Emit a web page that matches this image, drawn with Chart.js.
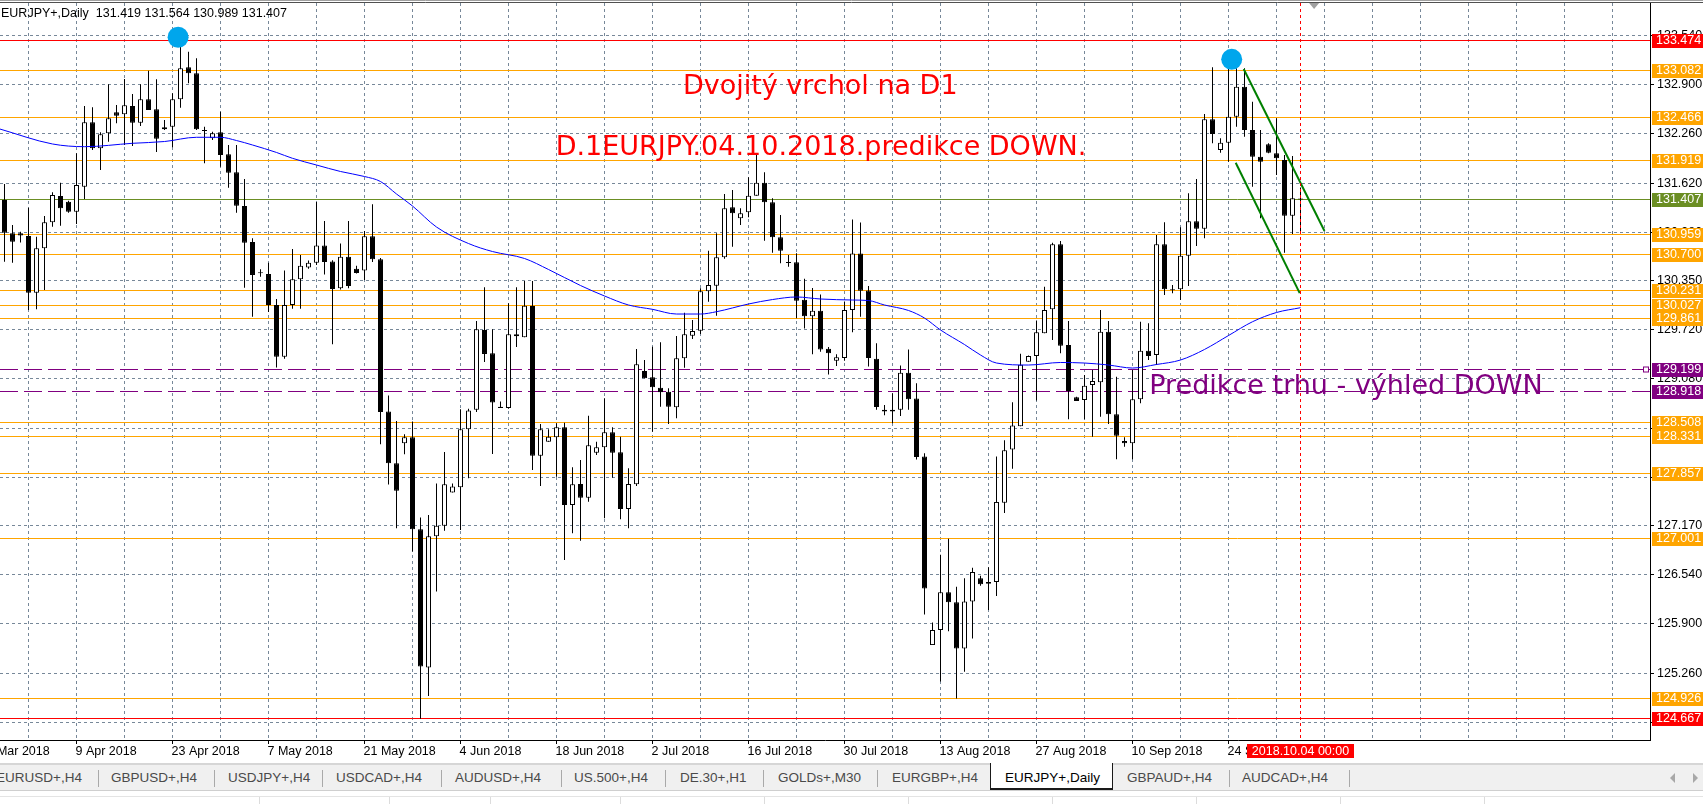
<!DOCTYPE html>
<html>
<head>
<meta charset="utf-8">
<title>EURJPY+,Daily</title>
<script src="https://cdn.jsdelivr.net/npm/chart.js@4.4.0/dist/chart.umd.min.js"></script>
<style>
  html, body { margin: 0; padding: 0; background: #fff; }
  #wrap { position: relative; width: 1703px; height: 804px; overflow: hidden; }
  #c { position: absolute; left: 0; top: 0; }
  #tabs { position: absolute; left: 0; top: 758px; width: 1703px; height: 46px;
          font-family: "Liberation Sans", Arial, sans-serif; font-size: 13.5px; }
  #tabs .rule { position: absolute; left: 0; top: 5px; width: 1703px; height: 2px; background: #d6d6d6; }
  #tabs .strip { position: absolute; left: 0; top: 7px; width: 1703px; height: 25px; background: #f0f0f0; }
  #tabs .active { position: absolute; left: 990px; top: 5px; width: 121px; height: 25px; background: #fff;
                  border-left: 1px solid #1a1a1a; border-right: 1px solid #1a1a1a; border-bottom: 2px solid #1a1a1a; }
  #tabs .tab { position: absolute; top: 11px; line-height: 18px; color: #4a4a4a; white-space: nowrap; }
  #tabs .tab.on { color: #000; }
  #tabs .sep { position: absolute; top: 12px; width: 1px; height: 17px; background: #a9a9a9; }
  #tabs .foot { position: absolute; left: 0; top: 32px; width: 1703px; height: 14px; background: #fff;
                border-top: 1px solid #cfcfcf; }
  #tabs .foot2 { position: absolute; left: 0; top: 38px; width: 1703px; height: 1px; background: #e4e4e4; }
  #tabs .fsep { position: absolute; top: 39px; width: 1px; height: 7px; background: #dcdcdc; }
  #tabs .arr { position: absolute; top: 15px; width: 0; height: 0; border-top: 5px solid transparent; border-bottom: 5px solid transparent; }
</style>
</head>
<body>
<div id="wrap">
  <canvas id="c" width="1703" height="804"></canvas>
  <div id="tabs">
    <div class="rule"></div>
    <div class="strip"></div>
    <div class="active"></div>
    <span class="tab" style="left:-4px">EURUSD+,H4</span>
    <i class="sep" style="left:98px"></i>
    <span class="tab" style="left:111px">GBPUSD+,H4</span>
    <i class="sep" style="left:214px"></i>
    <span class="tab" style="left:228px">USDJPY+,H4</span>
    <i class="sep" style="left:322px"></i>
    <span class="tab" style="left:336px">USDCAD+,H4</span>
    <i class="sep" style="left:441px"></i>
    <span class="tab" style="left:455px">AUDUSD+,H4</span>
    <i class="sep" style="left:561px"></i>
    <span class="tab" style="left:574px">US.500+,H4</span>
    <i class="sep" style="left:665px"></i>
    <span class="tab" style="left:680px">DE.30+,H1</span>
    <i class="sep" style="left:763px"></i>
    <span class="tab" style="left:778px">GOLDs+,M30</span>
    <i class="sep" style="left:877px"></i>
    <span class="tab" style="left:892px">EURGBP+,H4</span>
    <span class="tab on" style="left:1005px">EURJPY+,Daily</span>
    <span class="tab" style="left:1127px">GBPAUD+,H4</span>
    <i class="sep" style="left:1229px"></i>
    <span class="tab" style="left:1242px">AUDCAD+,H4</span>
    <i class="sep" style="left:1349px"></i>
    <div class="arr" style="left:1670px;border-right:5px solid #a8a8a8"></div>
    <div class="arr" style="left:1693px;border-left:5px solid #a8a8a8"></div>
    <div class="foot"></div>
    <div class="foot2"></div>
    <i class="fsep" style="left:259px"></i><i class="fsep" style="left:389px"></i>
    <i class="fsep" style="left:490px"></i><i class="fsep" style="left:620px"></i>
    <i class="fsep" style="left:764px"></i><i class="fsep" style="left:908px"></i>
    <i class="fsep" style="left:1052px"></i><i class="fsep" style="left:1196px"></i>
    <i class="fsep" style="left:1340px"></i><i class="fsep" style="left:1484px"></i>
  </div>
</div>
<script>
// daily bars, 29 Mar 2018 .. 4 Oct 2018 (Sunday bars included)
const opens = [
  131.401,130.969,130.969,130.934,130.198,130.774,131.112,131.453,131.379,131.249,
  131.574,132.410,132.072,132.267,132.539,132.513,132.621,132.404,132.708,132.578,
  132.319,132.352,132.708,133.123,133.046,132.310,132.202,132.280,131.994,131.761,
  131.323,130.856,130.457,130.440,130.038,129.366,130.038,130.372,130.525,130.585,
  130.812,130.604,130.256,130.664,130.510,130.487,130.929,130.631,128.657,127.985,
  128.244,128.323,127.127,125.333,127.035,127.173,127.604,127.674,128.425,128.680,
  129.714,129.412,128.717,128.702,129.658,129.621,130.025,128.082,128.264,128.321,
  128.451,127.442,127.715,127.537,128.121,128.191,128.386,128.126,127.390,127.711,
  129.181,129.100,128.965,128.913,128.710,129.346,129.640,129.705,130.216,130.289,
  130.657,131.306,131.163,131.241,131.457,131.626,131.371,130.917,130.587,130.592,
  130.107,129.891,129.963,129.470,129.316,129.350,129.973,130.705,130.226,129.341,
  128.679,128.656,128.679,129.158,128.823,128.072,125.624,125.820,126.309,126.179,
  125.581,126.190,126.491,126.419,126.443,127.472,128.162,128.464,129.302,129.375,
  129.671,129.982,130.826,129.519,128.840,128.805,129.000,129.035,129.692,128.619,
  128.273,128.243,128.814,129.445,129.389,130.826,130.242,130.242,130.678,131.125,
  131.029,132.448,132.050,132.145,132.482,132.872,132.310,131.963,132.124,132.007,
  131.920,131.197,131.419
];
const highs = [
  131.609,131.077,130.990,131.301,130.925,131.193,131.501,131.626,131.392,132.007,
  132.621,132.604,132.280,132.903,132.634,132.972,132.777,132.903,133.079,132.968,
  132.439,132.786,133.474,133.326,133.240,132.352,132.288,132.547,132.115,132.115,
  131.674,130.904,130.501,130.585,130.116,130.487,130.765,130.687,130.617,131.375,
  131.128,130.620,130.835,131.128,130.548,130.999,131.345,130.649,128.865,128.532,
  128.360,128.527,127.280,127.312,127.720,128.129,127.720,128.684,128.693,129.830,
  130.270,129.723,128.787,130.061,130.270,130.350,130.350,128.494,128.425,128.503,
  128.510,127.931,128.026,128.601,128.264,128.827,128.451,128.329,127.918,129.467,
  129.324,129.497,129.554,128.957,129.636,129.938,129.843,130.255,130.743,130.969,
  131.479,131.531,131.293,131.696,131.985,131.761,131.423,131.206,130.687,130.709,
  130.379,130.260,130.174,129.494,129.398,130.083,131.147,131.108,130.285,129.542,
  128.741,128.894,129.254,129.461,129.024,128.114,125.916,126.797,127.003,126.380,
  126.491,126.629,126.524,126.635,128.072,128.282,128.775,129.407,129.384,129.838,
  130.276,130.847,130.869,129.830,128.848,129.130,129.194,129.973,129.830,129.107,
  128.321,129.194,129.821,129.801,130.947,131.112,130.298,131.047,131.488,131.674,
  132.517,133.123,132.202,133.150,133.110,133.110,132.677,132.310,132.137,132.461,
  131.985,131.972,131.564
];
const lows = [
  130.600,130.587,130.850,129.973,129.982,130.233,131.054,131.067,131.236,131.089,
  131.414,132.050,131.790,132.158,132.397,132.115,132.102,132.362,132.569,132.024,
  132.310,132.085,132.599,132.916,132.310,131.877,132.180,131.833,131.561,131.236,
  130.263,129.886,130.405,129.947,129.227,129.342,129.991,129.991,130.510,130.557,
  130.433,129.528,130.240,130.256,130.446,130.363,130.595,128.230,127.707,127.141,
  128.100,126.840,124.667,124.962,126.321,127.109,127.604,127.118,127.790,128.648,
  129.297,128.105,128.702,128.693,129.492,129.621,127.896,127.689,128.264,127.809,
  126.728,127.075,126.979,127.485,128.091,127.269,127.797,127.256,127.140,127.689,
  129.087,128.394,128.718,128.494,128.567,129.224,129.597,129.662,130.081,129.899,
  130.640,130.795,131.077,131.176,131.457,130.873,130.717,130.579,130.535,129.866,
  129.733,129.398,129.432,129.135,129.245,129.316,129.685,129.886,129.240,128.679,
  128.608,128.503,128.597,128.679,128.033,126.021,125.624,125.150,125.805,124.930,
  125.278,125.711,126.395,126.079,126.261,127.338,127.913,128.464,129.302,128.800,
  129.671,129.584,129.411,128.555,128.792,128.555,128.329,128.588,128.494,128.035,
  128.199,128.035,128.762,129.324,129.259,130.168,130.190,130.103,130.285,130.804,
  130.904,132.137,132.015,131.898,132.352,132.223,131.574,131.164,132.007,131.726,
  130.717,130.960,130.989
];
const closes = [
  130.977,130.860,130.940,130.198,130.774,131.112,131.466,131.293,131.249,131.596,
  132.410,132.072,132.254,132.461,132.495,132.630,132.404,132.708,132.569,132.197,
  132.345,132.708,133.110,133.046,132.319,132.297,132.267,131.985,131.755,131.327,
  130.847,130.428,130.450,130.038,129.366,130.038,130.372,130.548,130.585,130.812,
  130.595,130.246,130.664,130.285,130.455,130.929,130.631,128.648,127.985,127.628,
  128.323,127.127,125.347,127.035,127.173,127.711,127.683,128.425,128.670,129.723,
  129.403,128.773,128.702,129.658,129.631,130.029,128.082,128.425,128.329,128.451,
  127.442,127.711,127.537,128.217,128.191,128.386,128.121,127.390,127.715,129.268,
  129.087,128.970,128.905,128.718,129.346,129.658,129.701,130.216,130.298,130.657,
  131.293,131.228,131.228,131.457,131.626,131.371,130.917,130.743,130.583,130.094,
  129.891,129.963,129.461,129.413,129.359,129.973,130.705,130.222,129.350,128.713,
  128.656,128.679,129.158,128.814,128.066,126.357,125.820,126.309,126.179,125.581,
  126.190,126.572,126.414,126.443,127.482,128.152,128.474,129.264,129.375,129.685,
  129.973,130.826,129.510,128.922,128.792,128.991,129.052,129.692,128.619,128.342,
  128.243,128.814,129.445,129.376,130.826,130.242,130.229,130.678,131.125,131.029,
  132.448,132.258,132.145,132.482,132.872,132.310,131.963,131.898,132.015,131.942,
  131.197,131.423,131.407
];

// moving average, read at selected bars (first point sits at the left edge)
const maIdx = [-0.6,6,10,16,20,24,27,29,31,34,36,39,42,45,47,49,51,54,58,61,
  65,68,72,75,78,81,84,87,89,93,96,99,102,106,108,110,113,115,117,120,
  122,124,128,132,135,138,141,144,147,150,153,156,159,162];
const maVal = [132.323,132.128,132.093,132.137,132.160,132.215,132.215,132.173,132.115,132.018,
  131.942,131.855,131.771,131.706,131.641,131.479,131.323,131.050,130.836,130.732,
  130.642,130.499,130.291,130.155,130.038,129.982,129.921,129.921,129.951,130.051,
  130.109,130.142,130.116,130.103,130.096,130.038,129.967,129.869,129.714,129.525,
  129.389,129.285,129.259,129.292,129.285,129.259,129.220,129.266,129.324,129.461,
  129.642,129.821,129.941,130.003];

// horizontal levels
const orangeLevels = [133.082,132.466,131.919,130.959,130.700,130.231,130.027,129.861,128.508,128.331,127.857,127.001,124.926];
const redLevels = [133.474,124.667];
const purpleLevels = [129.199,128.918];
const bidPrice = 131.407;

// channel lines and the two tops  [bar, price]
const trendUpper = [[154.9,133.101],[165.0,130.999]];
const trendLower = [[153.9,131.885],[161.9,130.193]];
const peaks = [[21.7,133.513],[153.4,133.227]];

// axis ticks
const priceTicks = [133.540,132.900,132.260,131.620,130.980,130.350,129.720,129.080,128.440,127.800,127.170,126.540,125.900,125.260,124.620];
const dateIdx = [-3,9,21,33,45,57,69,81,93,105,117,129,141,153];
const dateLabels = ['26 Mar 2018','9 Apr 2018','23 Apr 2018','7 May 2018','21 May 2018','4 Jun 2018',
  '18 Jun 2018','2 Jul 2018','16 Jul 2018','30 Jul 2018','13 Aug 2018','27 Aug 2018','10 Sep 2018','24 Sep 2018'];
const currentLabel = '2018.10.04 00:00';
const symbol = 'EURJPY+,Daily';

const last = closes.length - 1;
const AXIS_FONT = '12.5px "Liberation Sans", Arial, sans-serif';
const NOTE_FONT = '27px "DejaVu Sans", Verdana, sans-serif';

// text objects anchored at [bar, price]
const notes = [
  { text: 'Dvojitý vrchol na D1', at: [84.8, 132.773], color: '#ff0000' },
  { text: 'D.1EURJPY.04.10.2018.predikce DOWN.', at: [68.9, 131.985], color: '#ff0000' },
  { text: 'Predikce trhu - výhled DOWN', at: [143.1, 128.879], color: '#800080' },
];

const crisp = v => Math.round(v - 0.5) + 0.5;
function hline(ctx, x0, x1, y) { ctx.beginPath(); ctx.moveTo(x0, y); ctx.lineTo(x1, y); ctx.stroke(); }
function vline(ctx, x, y0, y1) { ctx.beginPath(); ctx.moveTo(x, y0); ctx.lineTo(x, y1); ctx.stroke(); }

const levelStyles = [
  { values: orangeLevels, color: '#ffa500', dash: [] },
  { values: redLevels, color: '#ff0000', dash: [] },
  { values: [bidPrice], color: '#6b8e23', dash: [] },
  { values: purpleLevels, color: '#800080', dash: [18, 6] },
];

const mt4 = {
  id: 'mt4',
  beforeDraw(chart) {
    const ctx = chart.ctx;
    ctx.save();
    ctx.fillStyle = '#fff';
    ctx.fillRect(0, 0, chart.width, chart.height);
    ctx.restore();
  },
  beforeDatasetsDraw(chart) {
    const { ctx, chartArea: a, scales: { x, y } } = chart;
    ctx.save();
    ctx.beginPath(); ctx.rect(a.left, a.top, a.right - a.left, a.bottom - a.top); ctx.clip();
    ctx.lineWidth = 1;
    ctx.strokeStyle = '#778899';
    ctx.setLineDash([3, 3]);
    for (let i = 3; i <= x.max; i += 6) vline(ctx, crisp(x.getPixelForValue(i)), a.top, a.bottom);
    for (const t of priceTicks) hline(ctx, a.left, a.right, crisp(y.getPixelForValue(t)));
    for (const g of levelStyles) {
      ctx.strokeStyle = g.color;
      ctx.setLineDash(g.dash);
      for (const v of g.values) hline(ctx, a.left, a.right, crisp(y.getPixelForValue(v)));
    }
    ctx.restore();
  },
  afterDatasetsDraw(chart) {
    const { ctx, chartArea: a, scales: { x, y } } = chart;
    ctx.save();
    // current bar marker
    ctx.strokeStyle = '#ff0000';
    ctx.lineWidth = 1;
    ctx.setLineDash([3, 3]);
    vline(ctx, crisp(x.getPixelForValue(last)), a.top, a.bottom);
    ctx.setLineDash([]);
    // handle on the upper prediction line
    const hy = crisp(y.getPixelForValue(purpleLevels[0]));
    ctx.fillStyle = '#fff'; ctx.strokeStyle = '#800080';
    ctx.fillRect(a.right - 6, hy - 2, 4, 4); ctx.strokeRect(a.right - 6.5, hy - 2.5, 5, 5);
    // text objects
    ctx.font = NOTE_FONT;
    ctx.textBaseline = 'alphabetic';
    ctx.textAlign = 'left';
    for (const n of notes) {
      ctx.fillStyle = n.color;
      ctx.fillText(n.text, x.getPixelForValue(n.at[0]), y.getPixelForValue(n.at[1]));
    }
    ctx.restore();
  },
  afterDraw(chart) {
    const { ctx, chartArea: a, scales: { x, y } } = chart;
    ctx.save();
    // window edge and axes frame
    ctx.lineWidth = 1;
    ctx.strokeStyle = '#a0a0a0'; hline(ctx, 0, chart.width, 0.5);
    ctx.strokeStyle = '#505050'; hline(ctx, 0, chart.width, 2.5);
    ctx.strokeStyle = '#000';
    vline(ctx, a.right + 0.5, a.top, a.bottom + 1);
    hline(ctx, 0, a.right + 1, a.bottom + 0.5);

    // price scale
    ctx.font = AXIS_FONT;
    ctx.textBaseline = 'middle';
    ctx.textAlign = 'left';
    ctx.fillStyle = '#000';
    for (const t of priceTicks) {
      const py = crisp(y.getPixelForValue(t));
      hline(ctx, a.right, a.right + 4, py);
      ctx.fillText(t.toFixed(3), a.right + 7, py + 0.5);
    }
    for (const g of levelStyles) {
      for (const v of g.values) {
        const py = crisp(y.getPixelForValue(v));
        ctx.fillStyle = g.color;
        ctx.fillRect(a.right + 2, py - 6.5, chart.width - a.right - 2, 14);
        ctx.fillStyle = '#fff';
        ctx.fillText(v.toFixed(3), a.right + 6, py + 0.5);
      }
    }

    // time scale
    ctx.fillStyle = '#000';
    const ly = a.bottom + 12;
    dateIdx.forEach((d, k) => {
      const px = crisp(x.getPixelForValue(d));
      vline(ctx, px, a.bottom, a.bottom + 4);
      ctx.fillText(dateLabels[k], px - 1, ly);
    });
    const cx = x.getPixelForValue(last);
    const cw = ctx.measureText(currentLabel).width + 10;
    ctx.fillStyle = '#ff0000';
    ctx.fillRect(Math.round(cx - cw / 2), a.bottom + 4, Math.round(cw), 14);
    ctx.fillStyle = '#fff';
    ctx.textAlign = 'center';
    ctx.fillText(currentLabel, cx, ly);

    // header
    ctx.textAlign = 'left';
    ctx.fillStyle = '#000';
    const ohlc = [opens[last], highs[last], lows[last], closes[last]].map(v => v.toFixed(3)).join(' ');
    ctx.fillText(symbol + '  ' + ohlc, 1, 14);

    // chart shift marker
    const sx = x.getPixelForValue(163.7);
    ctx.fillStyle = '#a0a0a0';
    ctx.beginPath(); ctx.moveTo(sx - 5, 3); ctx.lineTo(sx + 5, 3); ctx.lineTo(sx, 9); ctx.closePath(); ctx.fill();
    ctx.restore();
  }
};

const bodies = opens.map((o, i) => ({ x: i, y: [o, closes[i]] }));
const wicks = lows.map((l, i) => ({ x: i, y: [l, highs[i]] }));
const pts = arr => arr.map(p => ({ x: p[0], y: p[1] }));

new Chart(document.getElementById('c'), {
  type: 'bar',
  data: {
    datasets: [
      { type: 'line', label: 'tops', data: pts(peaks), showLine: false, pointRadius: 10.5,
        pointBackgroundColor: '#00a6ec', pointBorderWidth: 0, order: 0 },
      { type: 'line', label: 'channel upper', data: pts(trendUpper), borderColor: '#008000',
        borderWidth: 2, pointRadius: 0, order: 0 },
      { type: 'line', label: 'channel lower', data: pts(trendLower), borderColor: '#008000',
        borderWidth: 2, pointRadius: 0, order: 0 },
      { type: 'line', label: 'MA', data: maIdx.map((b, k) => ({ x: b, y: maVal[k] })),
        borderColor: '#0000ff', borderWidth: 1, pointRadius: 0, cubicInterpolationMode: 'monotone', order: 1 },
      { type: 'bar', label: 'body', data: bodies,
        backgroundColor: c => closes[c.dataIndex] > opens[c.dataIndex] ? '#ffffff' : '#000000',
        borderColor: '#000', borderWidth: 1, borderSkipped: false, barThickness: 5, minBarLength: 1,
        grouped: false, inflateAmount: 0, order: 2 },
      { type: 'bar', label: 'wick', data: wicks, backgroundColor: '#000', borderWidth: 0,
        barThickness: 1, grouped: false, inflateAmount: 0, order: 3 },
    ]
  },
  options: {
    responsive: false,
    animation: false,
    devicePixelRatio: 1,
    layout: { autoPadding: false, padding: { top: 3, left: 0, right: 0, bottom: 0 } },
    plugins: { legend: { display: false }, tooltip: { enabled: false } },
    scales: {
      x: { type: 'linear', min: -0.5625, max: 205.6875, offset: false,
           grid: { display: false }, ticks: { display: false }, border: { display: false },
           afterFit(s) { s.height = 64; } },
      y: { type: 'linear', position: 'right', min: 124.392, max: 133.958,
           grid: { display: false }, ticks: { display: false }, border: { display: false },
           afterFit(s) { s.width = 53; } }
    }
  },
  plugins: [mt4]
});
</script>
</body>
</html>
